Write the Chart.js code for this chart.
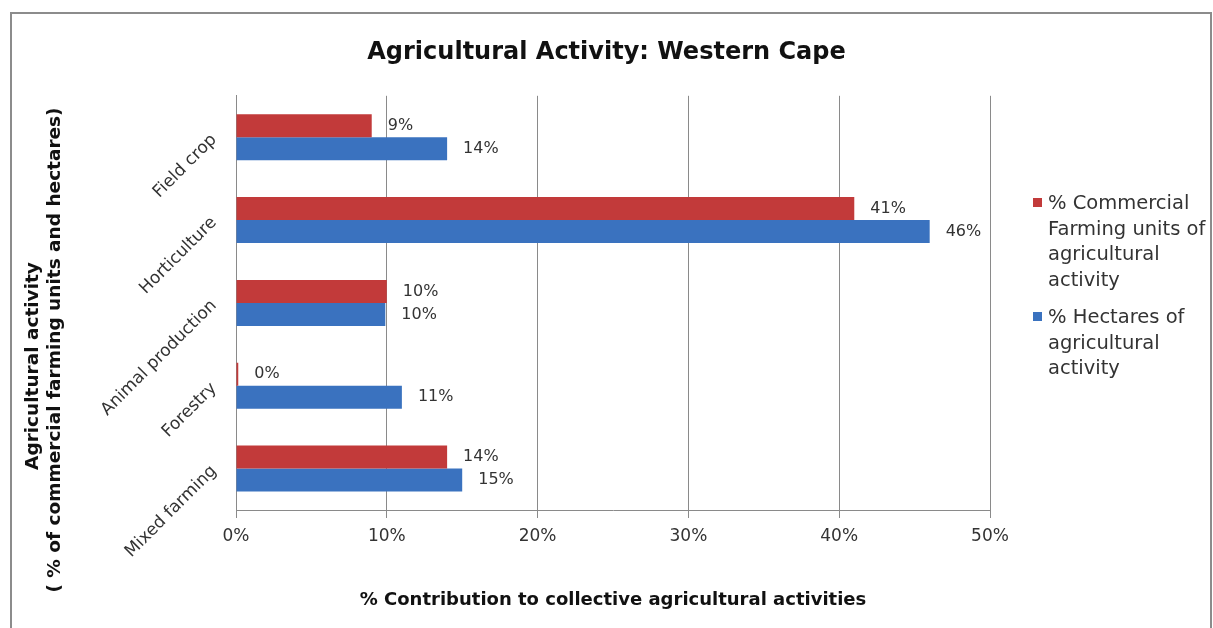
<!DOCTYPE html>
<html>
<head>
<meta charset="utf-8">
<title>Agricultural Activity: Western Cape</title>
<script src="https://cdn.jsdelivr.net/npm/chart.js@4.4.0/dist/chart.umd.min.js"></script>
<style>
  body { margin: 0; background: #fff; font-family: "DejaVu Sans", sans-serif; }
  #wrap { position: relative; width: 1213px; height: 628px; overflow: hidden; }
  #frame { position: absolute; left: 10px; top: 12px; width: 1198px; height: 660px; border: 2px solid #8c8c8c; }
  canvas { position: absolute; left: 0; top: 0; }
  .legend { position: absolute; left: 1033px; color: #333; font-size: 19.5px; line-height: 25.5px; }
  .legend span.box { position: absolute; left: 0; top: 8px; width: 9px; height: 9px; }
  .legend div.txt { margin-left: 15px; white-space: nowrap; }
</style>
</head>
<body>
<div id="wrap">
  <div id="frame"></div>
  <canvas id="myChart" width="1213" height="628"></canvas>
  <div class="legend" style="top:190px">
    <span class="box" style="background:#c23a3a"></span>
    <div class="txt">% Commercial<br>Farming units of<br>agricultural<br>activity</div>
  </div>
  <div class="legend" style="top:304px">
    <span class="box" style="background:#3a72bf"></span>
    <div class="txt">% Hectares of<br>agricultural<br>activity</div>
  </div>
</div>
<script>
  ////// data ///////
  var categories = ["Field crop", "Horticulture", "Animal production", "Forestry", "Mixed farming"];
  var commercialUnits = [9, 41, 10, 0.15, 14];
  var hectares = [14, 46, 9.9, 11, 15];
  var tickValues = [0, 10, 20, 30, 40, 50];
  var yTitle = ["Agricultural activity", "( % of commercial farming units and hectares)"];

  // draws the "14%" style labels at the end of every bar
  var barLabels = {
    id: 'barLabels',
    afterDatasetsDraw: function(chart) {
      var ctx = chart.ctx;
      ctx.save();
      ctx.font = '16px "DejaVu Sans"';
      ctx.fillStyle = '#333';
      ctx.textAlign = 'left';
      ctx.textBaseline = 'middle';
      chart.data.datasets.forEach(function(ds, i) {
        chart.getDatasetMeta(i).data.forEach(function(bar, j) {
          ctx.fillText(Math.round(ds.data[j]) + '%', bar.x + 16, bar.y);
        });
      });
      ctx.restore();
    }
  };

  // vertical axis title, sits a bit lower than the plot centre like the original
  var sideTitle = {
    id: 'sideTitle',
    afterDraw: function(chart) {
      var ctx = chart.ctx;
      ctx.save();
      ctx.font = 'bold 18.5px "DejaVu Sans"';
      ctx.fillStyle = '#111';
      ctx.textAlign = 'center';
      ctx.textBaseline = 'middle';
      ctx.translate(33, 366);
      ctx.rotate(-Math.PI / 2);
      ctx.fillText(yTitle[0], 0, 0);
      ctx.fillText(yTitle[1], 366 - 350, 22);
      ctx.restore();
    }
  };

  var ctx = document.getElementById("myChart");

  var myBarChart = new Chart(ctx, {
    type: 'bar',
    data: {
      labels: categories,
      datasets: [
        {
          label: "% Commercial Farming units of agricultural activity",
          backgroundColor: "#c23a3a",
          data: commercialUnits
        },
        {
          label: "% Hectares of agricultural activity",
          backgroundColor: "#3a72bf",
          data: hectares
        }
      ]
    },
    plugins: [barLabels, sideTitle],
    options: {
      indexAxis: 'y',
      responsive: false,
      animation: false,
      categoryPercentage: 0.555,
      barPercentage: 1,
      layout: { padding: 0 },
      plugins: {
        legend: { display: false },
        tooltip: { enabled: false },
        title: {
          display: true,
          text: "Agricultural Activity: Western Cape",
          color: '#111',
          font: { family: '"DejaVu Sans"', size: 24, weight: 'bold', lineHeight: 1.2 },
          padding: { top: 38, bottom: 29 }
        }
      },
      scales: {
        x: {
          min: 0,
          max: 50,
          afterBuildTicks: function(scale) {
            scale.ticks = tickValues.map(function(v) { return { value: v }; });
          },
          afterFit: function(scale) { scale.height = 118; },
          grid: { color: '#8a8a8a', tickLength: 8, drawTicks: true },
          border: { color: '#8a8a8a' },
          ticks: {
            color: '#333',
            padding: 8,
            font: { family: '"DejaVu Sans"', size: 17 },
            callback: function(v) { return v + '%'; }
          },
          title: {
            display: true,
            text: "% Contribution to collective agricultural activities",
            color: '#111',
            font: { family: '"DejaVu Sans"', size: 18, weight: 'bold' },
            padding: { top: 4, bottom: 17 }
          }
        },
        y: {
          afterFit: function(scale) { scale.width = 236; },
          grid: { display: false },
          border: { color: '#8a8a8a' },
          ticks: {
            color: '#333',
            minRotation: 45,
            maxRotation: 45,
            padding: 14,
            font: { family: '"DejaVu Sans"', size: 17 }
          },
          title: { display: false }
        },
        // empty right-hand axis that keeps room for the legend
        side: {
          type: 'linear',
          position: 'right',
          afterFit: function(scale) { scale.width = 223; },
          grid: { display: false },
          border: { display: false },
          ticks: { display: false }
        }
      }
    }
  });
</script>
</body>
</html>
